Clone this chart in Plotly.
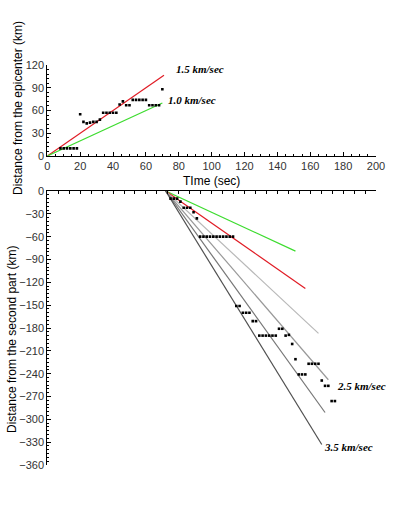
import plotly.graph_objects as go

W, H = 396, 512

# ---- top panel data (distance from epicenter) ----
top_t = [8, 10, 12, 14, 16, 18, 20, 22, 24, 26, 28, 30, 32, 34, 36, 38, 40, 42,
         44, 46, 48, 50, 52, 54, 56, 58, 60, 62, 64, 66, 68, 70]
top_d = [10, 10, 10, 10, 10, 10, 55, 45, 43, 44, 45, 45, 48, 57, 57, 57, 57, 57,
         68, 72, 67, 67, 74, 74, 74, 74, 74, 67, 67, 67, 67, 88]

top_line_names = ["1.5 km/sec", "1.0 km/sec"]
top_line_t = [[0, 71], [0, 70]]
top_line_d = [[0, 106.5], [0, 70]]
top_line_colors = ["#e01b24", "#3ddc2f"]

# ---- bottom panel data (distance from the second part) ----
bot_t = [75, 77, 79, 81, 83, 85, 87, 89, 91,
         93, 95, 97, 99, 101, 103, 105, 107, 109, 111, 113,
         115, 117, 119, 121, 123, 125, 127,
         129, 131, 133, 135, 137, 139, 141, 143, 145, 147, 149, 151,
         153, 155, 157, 159, 161, 163, 165, 167, 169, 171, 173, 175]
bot_d = [-10, -10, -10, -14, -22, -22, -22, -28, -36,
         -60, -60, -60, -60, -60, -60, -60, -60, -60, -60, -60,
         -151, -151, -160, -160, -160, -171, -171,
         -190, -190, -190, -190, -190, -190, -181, -181, -190, -189, -201, -221,
         -241, -241, -241, -227, -227, -227, -227, -249, -256, -256, -276, -276]

bot_line_names = ["1.0 km/sec", "1.5 km/sec", "2.0 km/sec", "2.5 km/sec", "3.0 km/sec", "3.5 km/sec"]
bot_line_t0 = 72
bot_line_t1 = [151, 157, 165, 171, 169, 167]
bot_line_d1 = [-79, -128, -187, -248, -291, -333]
bot_line_colors = ["#3ddc2f", "#e01b24", "#b8b8b8", "#989898", "#767676", "#505050"]

x_ticks = [0, 20, 40, 60, 80, 100, 120, 140, 160, 180, 200]
top_y_ticks = [0, 30, 60, 90, 120]
bot_y_ticks = [0, -30, -60, -90, -120, -150, -180, -210, -240, -270, -300, -330, -360]

fig = go.Figure()

for name, tt, dd, c in zip(top_line_names, top_line_t, top_line_d, top_line_colors):
    fig.add_trace(go.Scatter(x=tt, y=dd, mode="lines", line=dict(color=c, width=1.2),
                             xaxis="x", yaxis="y", name=name, showlegend=False))
fig.add_trace(go.Scatter(x=top_t, y=top_d, mode="markers",
                         marker=dict(symbol="square", size=2.6, color="black"),
                         xaxis="x", yaxis="y", showlegend=False))

for name, t1, d1, c in zip(bot_line_names, bot_line_t1, bot_line_d1, bot_line_colors):
    fig.add_trace(go.Scatter(x=[bot_line_t0, t1], y=[0, d1], mode="lines",
                             line=dict(color=c, width=1.2),
                             xaxis="x2", yaxis="y2", name=name, showlegend=False))
fig.add_trace(go.Scatter(x=bot_t, y=bot_d, mode="markers",
                         marker=dict(symbol="square", size=2.6, color="black"),
                         xaxis="x2", yaxis="y2", showlegend=False))

x0, x1 = 47.3 / W, 376 / W
tickfont = dict(family="Arial, Liberation Sans", size=11, color="#333")

fig.update_layout(
    template="none",
    width=W, height=H, margin=dict(l=0, r=0, t=0, b=0, pad=0),
    autosize=False,
    paper_bgcolor="white", plot_bgcolor="white",
    xaxis=dict(domain=[x0, x1], range=[0, 200], tickvals=x_ticks, showgrid=False,
               zeroline=False, showline=True, linecolor="black", linewidth=1,
               ticks="inside", ticklen=4, tickcolor="black", tickfont=tickfont,
               minor=dict(dtick=5, ticks="inside", ticklen=2, tickcolor="black"),
               anchor="y", automargin=False),
    yaxis=dict(domain=[1 - 156 / H, 1 - 65 / H], range=[0, 120], tickvals=top_y_ticks,
               showgrid=False, zeroline=False, showline=True, linecolor="black",
               linewidth=1, ticks="inside", ticklen=4, tickcolor="black",
               tickfont=tickfont,
               minor=dict(dtick=6, ticks="inside", ticklen=2, tickcolor="black"),
               anchor="x", automargin=False),
    xaxis2=dict(domain=[x0, x1], range=[0, 200], showgrid=False, zeroline=False,
                showline=True, linecolor="black", linewidth=1, side="top",
                tick0=0, dtick=20 / 3, ticks="inside", ticklen=3, tickcolor="black",
                showticklabels=False, anchor="y2", automargin=False),
    yaxis2=dict(domain=[1 - 465 / H, 1 - 191 / H], range=[-360, 0], tickvals=bot_y_ticks,
                showgrid=False, zeroline=False, showline=True, linecolor="black",
                linewidth=1, ticks="inside", ticklen=4, tickcolor="black",
                tickfont=tickfont,
                minor=dict(dtick=5, ticks="inside", ticklen=2, tickcolor="black"),
                anchor="x2", automargin=False),
)

titlefont = dict(family="Arial, Liberation Sans", size=12, color="black")
labfont = dict(family="Times New Roman, Liberation Serif", size=11, color="black")

anns = [
    dict(text="TIme (sec)", x=211 / W, y=1 - 181 / H, font=titlefont),
    dict(text="Distance from the epicenter (km)", x=18 / W, y=1 - 108 / H,
         textangle=-90, font=titlefont),
    dict(text="Distance from the second part (km)", x=12 / W, y=1 - 340 / H,
         textangle=-90, font=titlefont),
    dict(text="<b><i>1.5 km/sec</i></b>", x=200 / W, y=1 - 69 / H, font=labfont),
    dict(text="<b><i>1.0 km/sec</i></b>", x=192 / W, y=1 - 100 / H, font=labfont),
    dict(text="<b><i>2.5 km/sec</i></b>", x=361 / W, y=1 - 386 / H, font=labfont),
    dict(text="<b><i>3.5 km/sec</i></b>", x=348 / W, y=1 - 447 / H, font=labfont),
]
for a in anns:
    fig.add_annotation(xref="paper", yref="paper", showarrow=False,
                       xanchor="center", yanchor="middle", **a)

fig.write_html("out.html", config={"displayModeBar": False},
               post_script="document.body.style.margin='0';"
                           "document.body.style.overflow='hidden';")
